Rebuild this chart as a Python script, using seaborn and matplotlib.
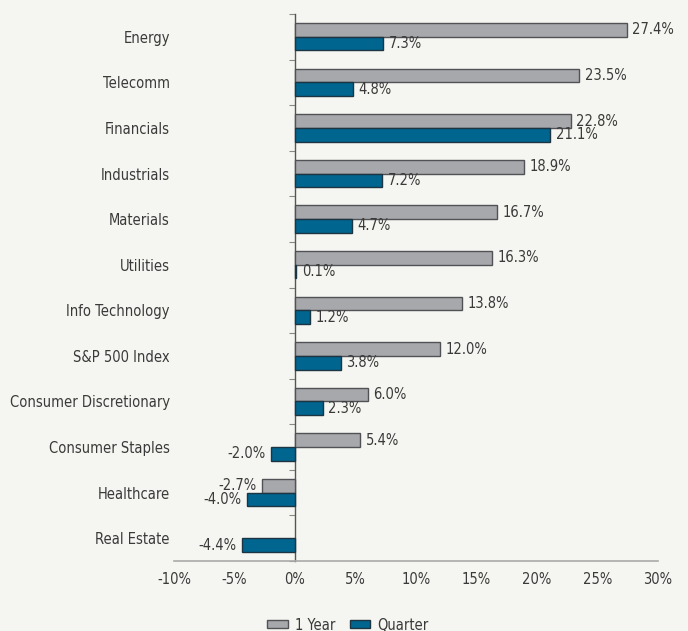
import numpy as np
import pandas as pd
import seaborn as sns
import matplotlib.pyplot as plt

# chart data
sectors = ['Energy', 'Telecomm', 'Financials', 'Industrials', 'Materials', 'Utilities',
           'Info Technology', 'S&P 500 Index', 'Consumer Discretionary', 'Consumer Staples',
           'Healthcare', 'Real Estate']
one_year = [27.4, 23.5, 22.8, 18.9, 16.7, 16.3, 13.8, 12.0, 6.0, 5.4, -2.7, np.nan]
quarter = [7.3, 4.8, 21.1, 7.2, 4.7, 0.1, 1.2, 3.8, 2.3, -2.0, -4.0, -4.4]
periods = ['1 Year', 'Quarter']
x_ticks = [-10, -5, 0, 5, 10, 15, 20, 25, 30]

BG = '#f5f5f1'
TXT = '#3a3a3a'
GRAY = '#a6a8ab'
BLUE = '#00658f'


def build_frame():
    df = pd.DataFrame({'sector': sectors, '1 Year': one_year, 'Quarter': quarter})
    return df.melt(id_vars='sector', var_name='period', value_name='value')


def main():
    sns.set_style('white')
    plt.rcParams['font.family'] = ['DejaVu Sans']
    plt.rcParams['font.stretch'] = 'condensed'
    plt.rcParams['text.color'] = TXT

    long_df = build_frame()

    fig = plt.figure(figsize=(6.88, 6.31), dpi=100, facecolor=BG)
    ax = fig.add_axes([174 / 688, 1 - 561 / 631, (658 - 174) / 688, (561 - 14) / 631])
    ax.set_facecolor(BG)

    sns.barplot(data=long_df, y='sector', x='value', hue='period', order=sectors,
                hue_order=periods, palette=[GRAY, BLUE], saturation=1, width=0.6,
                orient='h', ax=ax, legend=False)

    edge_cols = ['#505255', '#1d3442']
    for cont, ec in zip(ax.containers, edge_cols):
        for bar in cont:
            bar.set_edgecolor(ec)
            bar.set_linewidth(1.0)
        labels = ['' if np.isnan(v) else f'{v:.1f}%' for v in cont.datavalues]
        ax.bar_label(cont, labels=labels, padding=4, fontsize=10.5, color=TXT)

    xmin, xmax = -10, 30
    ax.set_xlim(xmin, xmax)
    ax.set_ylim(len(sectors) - 0.5, -0.5)
    ax.set_xticks(x_ticks, labels=[f'{t}%' for t in x_ticks])
    ax.set_xlabel('')
    ax.set_ylabel('')

    for side in ['top', 'right', 'left']:
        ax.spines[side].set_visible(False)
    ax.spines['bottom'].set_color('#aaaaaa')
    ax.spines['bottom'].set_linewidth(1.2)
    ax.tick_params(axis='x', length=4, color='#aaaaaa', labelsize=10.5, labelcolor=TXT, pad=4)
    ax.tick_params(axis='y', length=0, labelsize=10.5, labelcolor=TXT, pad=3)

    # zero line with small tick marks between categories
    zero_ax = ax.secondary_yaxis((0 - xmin) / (xmax - xmin))
    zero_ax.spines['left'].set_color('#555555')
    zero_ax.spines['left'].set_linewidth(1.0)
    zero_ax.set_yticks(np.arange(-0.5, len(sectors), 1.0))
    zero_ax.set_yticklabels([])
    zero_ax.tick_params(axis='y', length=4, color='#888888', direction='out')

    handles = [plt.Rectangle((0, 0), 1, 1, facecolor=GRAY, edgecolor=edge_cols[0]),
               plt.Rectangle((0, 0), 1, 1, facecolor=BLUE, edgecolor=edge_cols[1])]
    fig.legend(handles, periods, loc='center', bbox_to_anchor=(348 / 688, 1 - 625 / 631),
               ncol=2, frameon=False, fontsize=10.5, handlelength=1.4, handleheight=0.45,
               columnspacing=1.0, handletextpad=0.5)

    fig.savefig('out.png', dpi=100, facecolor=BG)


if __name__ == '__main__':
    main()
